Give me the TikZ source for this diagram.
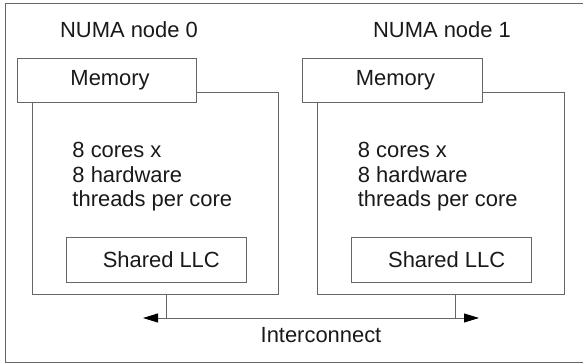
\documentclass[tikz,border=0pt]{standalone}
\usepackage{fontspec}
\setmainfont{Liberation Sans}
\usetikzlibrary{arrows.meta}

\begin{document}
\begin{tikzpicture}[font=\fontsize{15.6}{17.4}\selectfont,
    line width=0.7pt, color=black!60, text=black!90,
    >={Triangle[length=3.75mm,width=2.25mm,color=black]}]

\useasboundingbox (0,0) rectangle (14.575,9.1);

\tikzstyle {box}=[draw,shape=rectangle,anchor=south west,inner sep=0pt];

\tikzstyle {socket}=[box,
     minimum width=61.7mm,minimum height=50.5mm];

\tikzstyle {memory}=[box,fill=white,
     minimum width=44.9mm,minimum height=11mm];

\tikzstyle {llc}=[box,
     minimum width=45mm,minimum height=11.25mm];

\tikzstyle {cores}=[align=left,anchor=north west,inner sep=0pt];

\newcommand*{\numanode}[1]{
\draw (0.79,1.725) node [socket] (sock#1) {};
\draw (0.42,6.525) node [memory] (mem#1) {\hspace*{1.5mm}Memory};
\draw (1.645,2.025) node [llc] (llc#1) {\hspace*{2.5mm}Shared LLC};
\draw (1.8,5.55) node [cores] (cores#1)
  {8 cores x\\8 hardware\\threads per core};
}

% Outer frame
\draw (0.14,0.04) rectangle (14.8,9.02);

\begin{scope}
\numanode{0}
\end{scope}
\begin{scope}[xshift=7.135cm]
\numanode{1}
\end{scope}

\draw (3.225,8.15) node [anchor=base] (title0) {NUMA node 0};
\draw (11.05,8.15) node [anchor=base] (title1) {NUMA node 1};

% Interconnect
\coordinate (bus0) at (4.15,1.15);
\coordinate (bus1) at (11.39,1.15);
\coordinate (busl) at (3.575,1.15);
\coordinate (busr) at (11.975,1.15);

\draw [<->] (busl) -- (busr);
\draw (sock0.south -| bus0) -- (bus0);
\draw (sock1.south -| bus1) -- (bus1);

\draw (8.025,0.525) node [anchor=base] (ictext) {Interconnect};
\end{tikzpicture}
\end{document}
